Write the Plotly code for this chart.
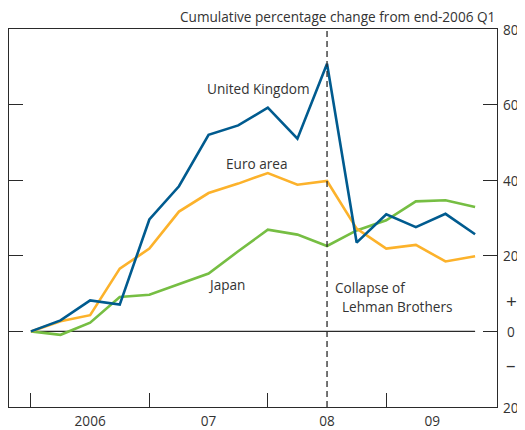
import plotly.graph_objects as go

# Quarterly data, 2006 Q1 .. 2009 Q4 (cumulative % change)
quarters = ["2006 Q1", "2006 Q2", "2006 Q3", "2006 Q4",
            "2007 Q1", "2007 Q2", "2007 Q3", "2007 Q4",
            "2008 Q1", "2008 Q2", "2008 Q3", "2008 Q4",
            "2009 Q1", "2009 Q2", "2009 Q3", "2009 Q4"]
uk = [0, 2.9, 8.2, 7.1, 29.6, 38.4, 52.0, 54.5, 59.2, 51.0, 70.8, 23.5, 31.0, 27.6, 31.1, 25.7]
euro = [0, 2.7, 4.3, 16.6, 21.9, 31.7, 36.6, 39.1, 41.9, 38.8, 39.8, 27.2, 21.9, 22.9, 18.5, 19.9]
japan = [0, -0.9, 2.3, 9.1, 9.7, 12.6, 15.3, 21.2, 26.9, 25.6, 22.6, 26.7, 29.4, 34.4, 34.7, 32.9]

year_tick_vals = [0, 4, 8, 12]
year_label_vals = [2, 6, 10, 13.55]
year_labels = ["2006", "07", "08", "09"]

right_vals = [80, 60, 40, 20, 8, 0, -9, -20]
right_labels = ["80", "60", "40", "20", "+", "0", "\u2013", "20"]
left_tick_vals = [-20, 0, 20, 40, 60, 80]

lehman_index = 10  # 2008 Q3

x = list(range(len(quarters)))
font = "Open Sans, Noto Sans, sans-serif"
txt = "#333333"
axc = "#2a2a2a"
fs = 13.6

fig = go.Figure()
fig.add_trace(go.Scatter(x=x, y=japan, mode="lines", line=dict(color="#76BE43", width=2.6), hoverinfo="skip"))
fig.add_trace(go.Scatter(x=x, y=euro, mode="lines", line=dict(color="#FCB22B", width=2.6), hoverinfo="skip"))
fig.add_trace(go.Scatter(x=x, y=uk, mode="lines", line=dict(color="#005B8F", width=2.6), hoverinfo="skip"))

# zero line over data span
fig.add_shape(type="line", xref="x", yref="y", x0=x[0], x1=x[-1], y0=0, y1=0,
              line=dict(color=axc, width=1.3), layer="below")
# Lehman dashed line
fig.add_shape(type="line", xref="x", yref="paper", x0=lehman_index, x1=lehman_index, y0=0, y1=1,
              line=dict(color=axc, width=1.3, dash="6px,4px"))

# page body adds an 8px offset; figure sized to compensate
fig.update_layout(
    width=517, height=422,
    margin=dict(l=1, r=28, t=21, b=23),
    paper_bgcolor="white", plot_bgcolor="white",
    showlegend=False,
    font=dict(family=font, size=fs, color=txt),
    xaxis=dict(range=[-0.74, 15.74], showgrid=False, zeroline=False,
               showline=True, linecolor=axc, linewidth=1.3, mirror=True,
               tickmode="array", tickvals=year_label_vals, ticktext=year_labels,
               ticks="", ticklabelstandoff=2,
               minor=dict(tickmode="array", tickvals=year_tick_vals, ticks="inside",
                          ticklen=14, tickwidth=1.3, tickcolor=axc, showgrid=False),
               fixedrange=True),
    yaxis=dict(range=[-20, 80], showgrid=False, zeroline=False,
               showline=True, linecolor=axc, linewidth=1.3, mirror="ticks",
               tickmode="array", tickvals=left_tick_vals, ticks="inside",
               ticklen=14, tickwidth=1.3, tickcolor=axc, showticklabels=False,
               fixedrange=True),
)

for v, lab in zip(right_vals, right_labels):
    fig.add_annotation(x=1, xref="paper", y=v, yref="y", text=lab, showarrow=False,
                       xanchor="center", yanchor="middle", xshift=14,
                       font=dict(size=19 if lab in ("+", "\u2013") else fs, color=txt))

fig.add_annotation(x=1, xref="paper", y=1, yref="paper", yanchor="middle", xanchor="right",
                   yshift=13, text="Cumulative percentage change from end-2006 Q1", showarrow=False)

labels = [("United Kingdom", 7.69, 64.3, "center"), ("Euro area", 7.62, 44.4, "center"),
          ("Japan", 6.62, 12.4, "center"), ("Collapse of", 10.2, 11.6, "left"),
          ("Lehman Brothers", 10.44, 6.6, "left")]
for t, lx, ly, anc in labels:
    fig.add_annotation(x=lx, y=ly, xref="x", yref="y", text=t, showarrow=False,
                       xanchor=anc, yanchor="middle")

fig.write_html("out.html")
